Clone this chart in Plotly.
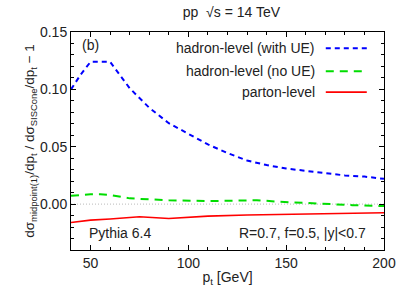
import plotly.graph_objects as go

# Data
pt_ue = [40, 45, 50, 60, 70, 80, 90, 100, 110, 120, 130, 140, 150, 160, 170, 180, 190, 200]
with_ue = [0.100, 0.113, 0.124, 0.124, 0.101, 0.084, 0.0705, 0.061, 0.052, 0.0445, 0.038,
           0.034, 0.031, 0.029, 0.027, 0.025, 0.024, 0.022]
pt_noue = [40, 50, 55, 60, 70, 80, 90, 110, 120, 135, 147, 162, 184, 200]
no_ue = [0.0072, 0.0086, 0.0086, 0.0080, 0.0050, 0.0040, 0.0034, 0.0026, 0.0028, 0.0034,
         0.0020, 0.0006, -0.0009, -0.0017]
pt_parton = [40, 50, 60, 75, 90, 110, 130, 150, 175, 200]
parton = [-0.016, -0.014, -0.013, -0.011, -0.0125, -0.0105, -0.0095, -0.009, -0.0085, -0.0075]

names = ["hadron-level (with UE)", "hadron-level (no UE)", "parton-level"]
colors = ["#0000ff", "#00dd00", "#ff0000"]
dashes = ["5px,4px", "8px,6px", "solid"]
widths = [2, 2, 1.6]

FONT = "Liberation Sans, Arial, sans-serif"
TXT = 14

fig = go.Figure()
fig.add_trace(go.Scatter(x=[40, 200], y=[0, 0], mode="lines",
                         line=dict(color="#aaaaaa", width=0.8, dash="1px,2px"),
                         showlegend=False, hoverinfo="skip"))
for xs, ys, c, d, w, n in zip([pt_ue, pt_noue, pt_parton], [with_ue, no_ue, parton],
                              colors, dashes, widths, names):
    fig.add_trace(go.Scatter(x=xs, y=ys, mode="lines", name=n,
                             line=dict(color=c, width=w, dash=d),
                             showlegend=False))

# manual legend (text left of line sample, gnuplot style)
leg_y = [0.925, 0.82, 0.724]
for n, c, d, w, yy in zip(names, colors, dashes, widths, leg_y):
    fig.add_annotation(x=0.787, y=yy, xref="paper", yref="paper", text=n, showarrow=False,
                       xanchor="right", yanchor="middle", font=dict(size=TXT, color="#222"))
    fig.add_shape(type="line", xref="paper", yref="paper", x0=0.814, x1=0.945, y0=yy, y1=yy,
                  line=dict(color=c, width=w, dash=d))

fig.add_annotation(x=0.028, y=0.94, xref="paper", yref="paper", text="(b)", showarrow=False,
                   xanchor="left", yanchor="middle", font=dict(size=TXT, color="#222"))
fig.add_annotation(x=0.05, y=0.078, xref="paper", yref="paper", text="Pythia 6.4", showarrow=False,
                   xanchor="left", yanchor="middle", font=dict(size=TXT, color="#222"))
fig.add_annotation(x=0.95, y=0.078, xref="paper", yref="paper", text="R=0.7, f=0.5, |y|<0.7",
                   showarrow=False, xanchor="right", yanchor="middle", font=dict(size=TXT, color="#222"))

fig.update_layout(
    width=399, height=296,
    margin=dict(l=71, r=15, t=32, b=46),
    paper_bgcolor="white", plot_bgcolor="white",
    font=dict(family=FONT, size=TXT, color="#222"),
    title=dict(text="pp  √s = 14 TeV", x=0.58, xanchor="center", y=0.96, yanchor="middle",
               font=dict(size=TXT, color="#222")),
    showlegend=False,
)
fig.update_xaxes(range=[40, 200], tickvals=[50, 100, 150, 200], ticks="inside", ticklen=5,
                 mirror="allticks", showline=True, linecolor="black", linewidth=1,
                 showgrid=False, zeroline=False, tickcolor="black", automargin=False,
                 tickfont=dict(size=14),
                 minor=dict(ticks="inside", dtick=10, tick0=0, ticklen=3, tickcolor="black"),
                 title=dict(text="p<sub>t</sub> [GeV]", standoff=2, font=dict(size=TXT)))
fig.update_yaxes(range=[-0.04, 0.15], tickvals=[0.0, 0.05, 0.10, 0.15], tickformat=".2f",
                 ticks="inside", ticklen=5, mirror="allticks", showline=True, linecolor="black",
                 linewidth=1, showgrid=False, zeroline=False, tickcolor="black", automargin=False,
                 tickfont=dict(size=14),
                 minor=dict(ticks="inside", dtick=0.01, tick0=0, ticklen=3, tickcolor="black"),
                 title=dict(text="dσ<sub>midpoint(1)</sub>/dp<sub>t</sub> / dσ<sub>SISCone</sub>/dp<sub>t</sub> − 1",
                            standoff=2, font=dict(size=13.5)))

fig.write_html("out.html", config={"displayModeBar": False},
               post_script="document.body.style.margin='0';")
